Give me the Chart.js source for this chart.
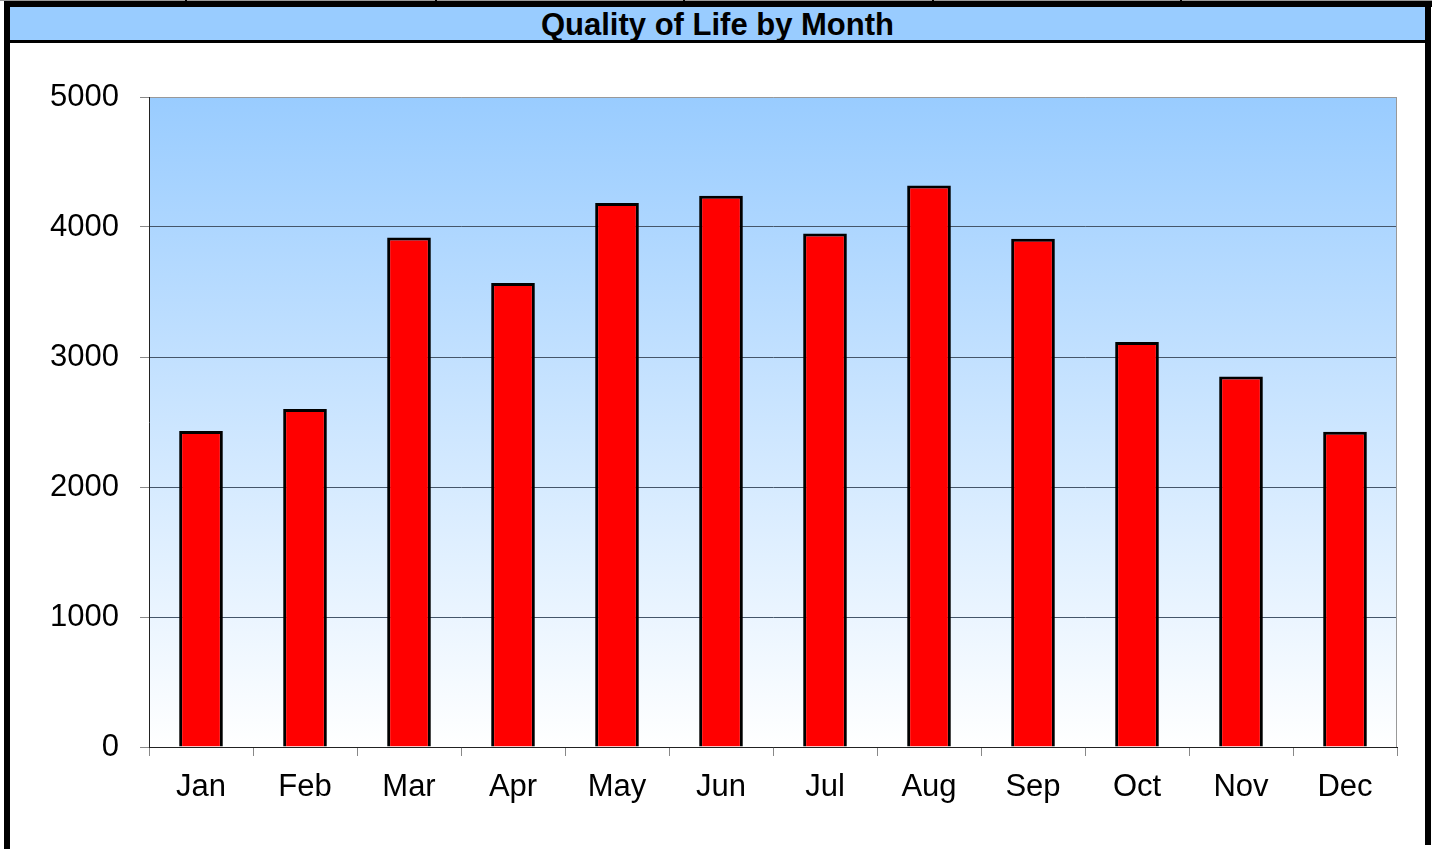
<!DOCTYPE html>
<html>
<head>
<meta charset="utf-8">
<title>Quality of Life by Month</title>
<script src="https://cdn.jsdelivr.net/npm/chart.js@4.4.1/dist/chart.umd.min.js"></script>
<style>
  html, body { margin: 0; padding: 0; background: #fff; }
  #wrap { position: relative; width: 1432px; height: 849px; overflow: hidden; }
  #wrap div { position: absolute; }
  .topline { left: 0; top: 0; width: 1432px; height: 1px; background: #999; }
  .notch { top: 0; width: 2px; height: 1px; background: #000; }
  .band { left: 4px; top: 1px; width: 1428px; height: 6px; background: #000; }
  .sideL { left: 4px; top: 1px; width: 6px; height: 848px; background: #000; }
  .sideR { left: 1425px; top: 1px; width: 6px; height: 844px; background: #000; }
  .under { left: 4px; top: 40px; width: 1427px; height: 3px; background: #000; }
  #titlebar {
    left: 10px; top: 7px; width: 1415px; height: 33px; background: #99ccff;
    text-align: center; line-height: 30px;
    font: bold 31px "Liberation Sans", Arial, sans-serif; color: #000;
  }
  #chart { position: absolute; left: 0; top: 0; }
</style>
</head>
<body>
<div id="wrap">
  <div class="topline"></div>
  <div class="notch" style="left:185px"></div>
  <div class="notch" style="left:435px"></div>
  <div class="notch" style="left:683px"></div>
  <div class="notch" style="left:932px"></div>
  <div class="notch" style="left:1180px"></div>
  <div class="band"></div>
  <div id="titlebar">Quality of Life by Month</div>
  <div class="under"></div>
  <div class="sideL"></div>
  <div class="sideR"></div>
  <canvas id="chart" width="1432" height="849"></canvas>
</div>
<script>
const months = ['Jan', 'Feb', 'Mar', 'Apr', 'May', 'Jun', 'Jul', 'Aug', 'Sep', 'Oct', 'Nov', 'Dec'];
const qualityValues = [2430, 2600, 3920, 3570, 4185, 4240, 3950, 4320, 3910, 3115, 2850, 2425];
const yMin = 0;
const yMax = 5000;
const yStep = 1000;

// blue-to-white fill behind the bars, plus the grey frame on the right
const plotBackground = {
    id: 'plotBackground',
    beforeDraw(chart) {
        const { ctx, chartArea: a } = chart;
        const g = ctx.createLinearGradient(0, a.top, 0, a.bottom);
        g.addColorStop(0, '#99ccff');
        g.addColorStop(1, '#ffffff');
        ctx.save();
        ctx.fillStyle = g;
        ctx.fillRect(a.left, a.top, a.right - a.left, a.bottom - a.top);
        ctx.restore();
    },
    beforeDatasetsDraw(chart) {
        const { ctx, chartArea: a } = chart;
        ctx.save();
        ctx.strokeStyle = '#999';
        ctx.lineWidth = 1;
        ctx.beginPath();
        ctx.moveTo(a.right - 0.5, a.top);
        ctx.lineTo(a.right - 0.5, a.bottom);
        ctx.stroke();
        ctx.restore();
    }
};

const font = { family: '"Liberation Sans", Arial, sans-serif', size: 31 };

new Chart(document.getElementById('chart'), {
    type: 'bar',
    data: {
        labels: months,
        datasets: [{
            label: 'Quality of Life',
            data: qualityValues,
            backgroundColor: '#ff0000',
            borderColor: '#000',
            borderWidth: 3,
            barPercentage: 0.42,
            categoryPercentage: 1
        }]
    },
    options: {
        responsive: false,
        animation: false,
        devicePixelRatio: 1,
        layout: { padding: { top: 97, right: 35, left: 0, bottom: 0 } },
        plugins: {
            legend: { display: false },
            tooltip: { enabled: false },
            title: { display: false }
        },
        scales: {
            x: {
                afterFit(scale) { scale.height = 102; },
                grid: {
                    offset: true,
                    drawOnChartArea: false,
                    tickLength: 9,
                    color: '#888'
                },
                border: { color: '#222', width: 1 },
                ticks: { color: '#000', font: font, padding: 13, maxRotation: 0 }
            },
            y: {
                min: yMin,
                max: yMax,
                afterFit(scale) { scale.width = 149; },
                grid: {
                    tickLength: 9,
                    color: ctx => ctx.tick && ctx.tick.value === yMax ? '#999' : '#45566a',
                    tickColor: '#888'
                },
                border: { color: '#222', width: 1 },
                ticks: {
                    stepSize: yStep,
                    color: '#000',
                    font: font,
                    padding: 21,
                    callback: v => String(v)
                }
            }
        }
    },
    plugins: [plotBackground]
});
</script>
</body>
</html>
